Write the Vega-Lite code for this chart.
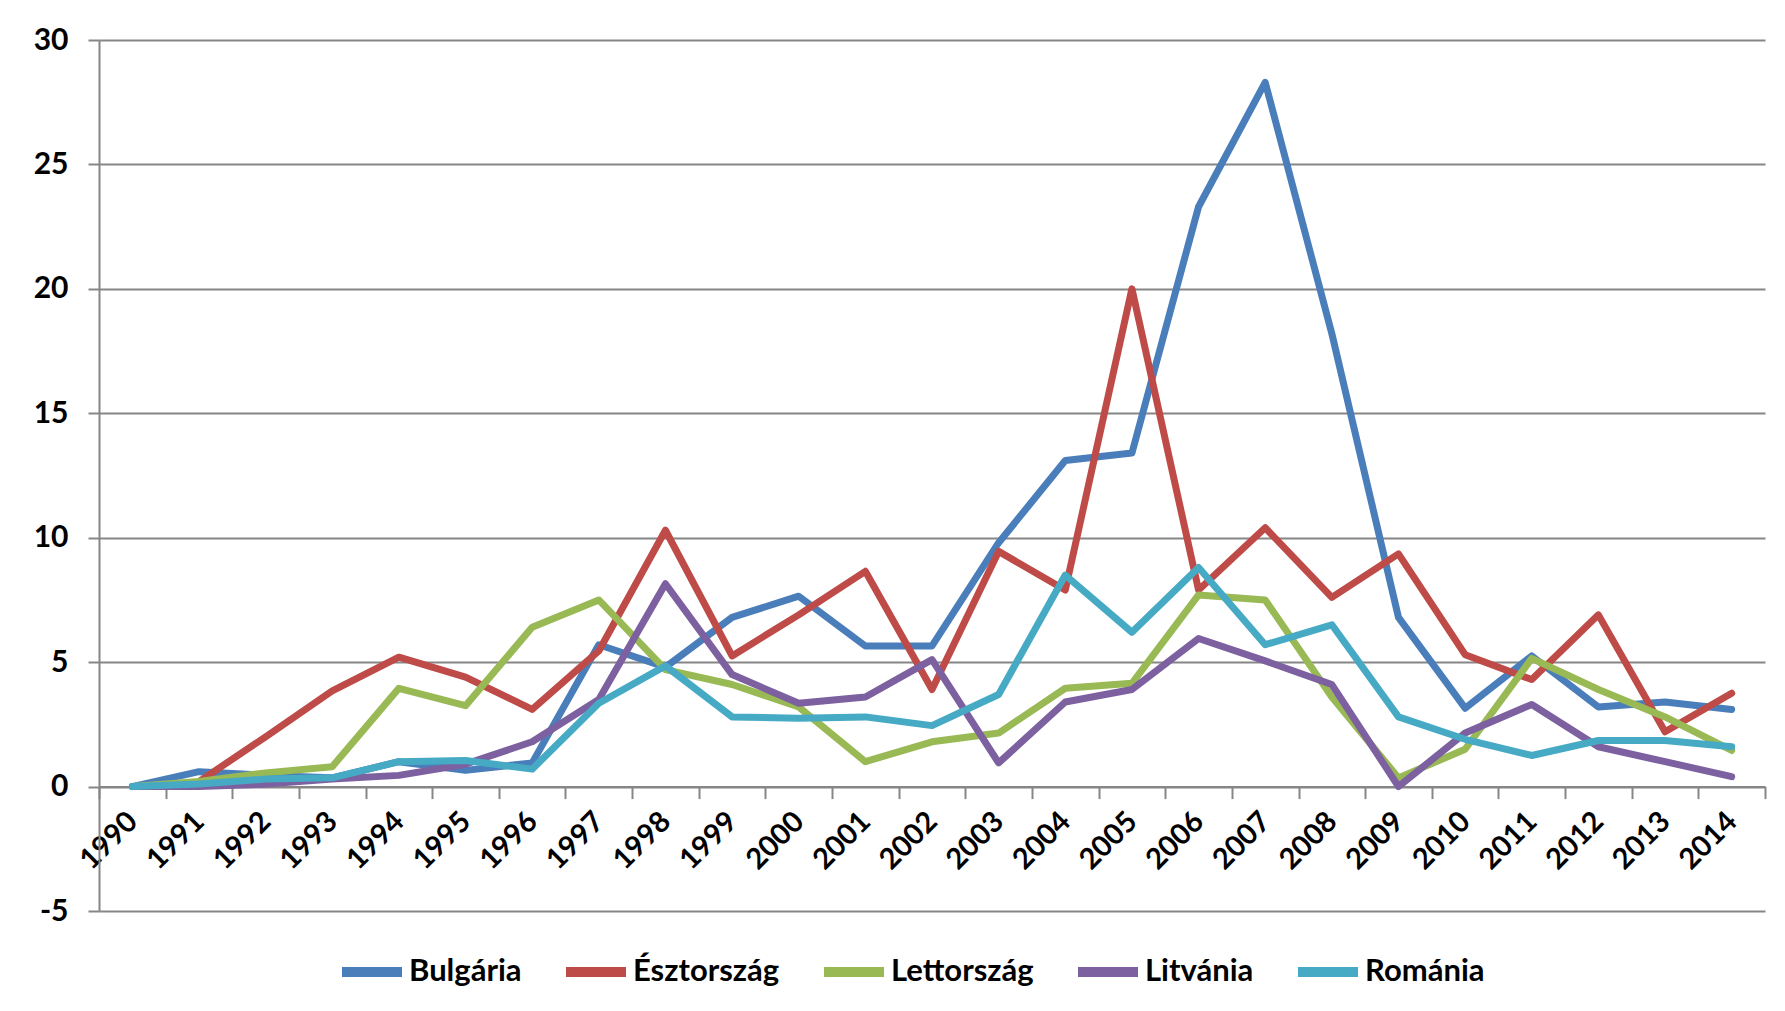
{
  "$schema": "https://vega.github.io/schema/vega-lite/v6.json",
  "width": 1666,
  "height": 871,
  "autosize": {"type": "none"},
  "padding": {"left": 99, "top": 40, "right": 20, "bottom": 100},
  "background": "white",
  "config": {
    "view": {"stroke": null},
    "font": "Lato",
    "axis": {"labelFont": "Lato", "labelFontWeight": "bold", "labelColor": "#000000"}
  },
  "data": {
    "values": [
      {"year": 1990, "country": "Bulgária", "value": 0},
      {"year": 1991, "country": "Bulgária", "value": 0.6},
      {"year": 1992, "country": "Bulgária", "value": 0.45},
      {"year": 1993, "country": "Bulgária", "value": 0.35},
      {"year": 1994, "country": "Bulgária", "value": 1.0},
      {"year": 1995, "country": "Bulgária", "value": 0.65},
      {"year": 1996, "country": "Bulgária", "value": 0.95},
      {"year": 1997, "country": "Bulgária", "value": 5.7},
      {"year": 1998, "country": "Bulgária", "value": 4.8},
      {"year": 1999, "country": "Bulgária", "value": 6.8},
      {"year": 2000, "country": "Bulgária", "value": 7.65},
      {"year": 2001, "country": "Bulgária", "value": 5.65},
      {"year": 2002, "country": "Bulgária", "value": 5.65},
      {"year": 2003, "country": "Bulgária", "value": 9.8},
      {"year": 2004, "country": "Bulgária", "value": 13.1},
      {"year": 2005, "country": "Bulgária", "value": 13.4},
      {"year": 2006, "country": "Bulgária", "value": 23.3},
      {"year": 2007, "country": "Bulgária", "value": 28.3},
      {"year": 2008, "country": "Bulgária", "value": 18.2},
      {"year": 2009, "country": "Bulgária", "value": 6.8},
      {"year": 2010, "country": "Bulgária", "value": 3.15},
      {"year": 2011, "country": "Bulgária", "value": 5.25},
      {"year": 2012, "country": "Bulgária", "value": 3.2},
      {"year": 2013, "country": "Bulgária", "value": 3.4},
      {"year": 2014, "country": "Bulgária", "value": 3.1},

      {"year": 1991, "country": "Észtország", "value": 0.2},
      {"year": 1992, "country": "Észtország", "value": 2.0},
      {"year": 1993, "country": "Észtország", "value": 3.85},
      {"year": 1994, "country": "Észtország", "value": 5.2},
      {"year": 1995, "country": "Észtország", "value": 4.4},
      {"year": 1996, "country": "Észtország", "value": 3.1},
      {"year": 1997, "country": "Észtország", "value": 5.45},
      {"year": 1998, "country": "Észtország", "value": 10.3},
      {"year": 1999, "country": "Észtország", "value": 5.25},
      {"year": 2000, "country": "Észtország", "value": 6.9},
      {"year": 2001, "country": "Észtország", "value": 8.65},
      {"year": 2002, "country": "Észtország", "value": 3.9},
      {"year": 2003, "country": "Észtország", "value": 9.45},
      {"year": 2004, "country": "Észtország", "value": 7.9},
      {"year": 2005, "country": "Észtország", "value": 20.0},
      {"year": 2006, "country": "Észtország", "value": 7.9},
      {"year": 2007, "country": "Észtország", "value": 10.4},
      {"year": 2008, "country": "Észtország", "value": 7.6},
      {"year": 2009, "country": "Észtország", "value": 9.35},
      {"year": 2010, "country": "Észtország", "value": 5.3},
      {"year": 2011, "country": "Észtország", "value": 4.3},
      {"year": 2012, "country": "Észtország", "value": 6.9},
      {"year": 2013, "country": "Észtország", "value": 2.2},
      {"year": 2014, "country": "Észtország", "value": 3.75},

      {"year": 1990, "country": "Lettország", "value": 0},
      {"year": 1991, "country": "Lettország", "value": 0.2},
      {"year": 1992, "country": "Lettország", "value": 0.55},
      {"year": 1993, "country": "Lettország", "value": 0.8},
      {"year": 1994, "country": "Lettország", "value": 3.95},
      {"year": 1995, "country": "Lettország", "value": 3.25},
      {"year": 1996, "country": "Lettország", "value": 6.4},
      {"year": 1997, "country": "Lettország", "value": 7.5},
      {"year": 1998, "country": "Lettország", "value": 4.7},
      {"year": 1999, "country": "Lettország", "value": 4.1},
      {"year": 2000, "country": "Lettország", "value": 3.2},
      {"year": 2001, "country": "Lettország", "value": 1.0},
      {"year": 2002, "country": "Lettország", "value": 1.8},
      {"year": 2003, "country": "Lettország", "value": 2.15},
      {"year": 2004, "country": "Lettország", "value": 3.95},
      {"year": 2005, "country": "Lettország", "value": 4.15},
      {"year": 2006, "country": "Lettország", "value": 7.7},
      {"year": 2007, "country": "Lettország", "value": 7.5},
      {"year": 2008, "country": "Lettország", "value": 3.6},
      {"year": 2009, "country": "Lettország", "value": 0.35},
      {"year": 2010, "country": "Lettország", "value": 1.5},
      {"year": 2011, "country": "Lettország", "value": 5.15},
      {"year": 2012, "country": "Lettország", "value": 3.9},
      {"year": 2013, "country": "Lettország", "value": 2.8},
      {"year": 2014, "country": "Lettország", "value": 1.45},

      {"year": 1990, "country": "Litvánia", "value": 0},
      {"year": 1991, "country": "Litvánia", "value": 0},
      {"year": 1992, "country": "Litvánia", "value": 0.1},
      {"year": 1993, "country": "Litvánia", "value": 0.3},
      {"year": 1994, "country": "Litvánia", "value": 0.45},
      {"year": 1995, "country": "Litvánia", "value": 0.9},
      {"year": 1996, "country": "Litvánia", "value": 1.8},
      {"year": 1997, "country": "Litvánia", "value": 3.5},
      {"year": 1998, "country": "Litvánia", "value": 8.15},
      {"year": 1999, "country": "Litvánia", "value": 4.5},
      {"year": 2000, "country": "Litvánia", "value": 3.35},
      {"year": 2001, "country": "Litvánia", "value": 3.6},
      {"year": 2002, "country": "Litvánia", "value": 5.1},
      {"year": 2003, "country": "Litvánia", "value": 0.95},
      {"year": 2004, "country": "Litvánia", "value": 3.4},
      {"year": 2005, "country": "Litvánia", "value": 3.9},
      {"year": 2006, "country": "Litvánia", "value": 5.95},
      {"year": 2007, "country": "Litvánia", "value": 5.05},
      {"year": 2008, "country": "Litvánia", "value": 4.1},
      {"year": 2009, "country": "Litvánia", "value": 0},
      {"year": 2010, "country": "Litvánia", "value": 2.15},
      {"year": 2011, "country": "Litvánia", "value": 3.3},
      {"year": 2012, "country": "Litvánia", "value": 1.6},
      {"year": 2013, "country": "Litvánia", "value": 1.0},
      {"year": 2014, "country": "Litvánia", "value": 0.4},

      {"year": 1990, "country": "Románia", "value": 0},
      {"year": 1991, "country": "Románia", "value": 0.1},
      {"year": 1992, "country": "Románia", "value": 0.3},
      {"year": 1993, "country": "Románia", "value": 0.35},
      {"year": 1994, "country": "Románia", "value": 1.0},
      {"year": 1995, "country": "Románia", "value": 1.05},
      {"year": 1996, "country": "Románia", "value": 0.7},
      {"year": 1997, "country": "Románia", "value": 3.35},
      {"year": 1998, "country": "Románia", "value": 4.85},
      {"year": 1999, "country": "Románia", "value": 2.8},
      {"year": 2000, "country": "Románia", "value": 2.75},
      {"year": 2001, "country": "Románia", "value": 2.8},
      {"year": 2002, "country": "Románia", "value": 2.45},
      {"year": 2003, "country": "Románia", "value": 3.7},
      {"year": 2004, "country": "Románia", "value": 8.5},
      {"year": 2005, "country": "Románia", "value": 6.2},
      {"year": 2006, "country": "Románia", "value": 8.8},
      {"year": 2007, "country": "Románia", "value": 5.7},
      {"year": 2008, "country": "Románia", "value": 6.5},
      {"year": 2009, "country": "Románia", "value": 2.8},
      {"year": 2010, "country": "Románia", "value": 1.9},
      {"year": 2011, "country": "Románia", "value": 1.25},
      {"year": 2012, "country": "Románia", "value": 1.85},
      {"year": 2013, "country": "Románia", "value": 1.85},
      {"year": 2014, "country": "Románia", "value": 1.6}
    ]
  },
  "mark": {"type": "line", "strokeWidth": 7, "strokeJoin": "round", "strokeCap": "round"},
  "encoding": {
    "x": {
      "field": "year",
      "type": "ordinal",
      "bandPosition": 0.5,
      "scale": {"type": "band", "paddingInner": 0, "paddingOuter": 0},
      "axis": {
        "title": null,
        "offset": -124.4,
        "tickBand": "extent",
        "domainColor": "#868686",
        "domainWidth": 2,
        "tickColor": "#868686",
        "tickWidth": 2,
        "tickSize": 12,
        "labelAngle": -45,
        "labelAlign": "right",
        "labelBaseline": "middle",
        "labelFontSize": 29,
        "labelPadding": 18,
        "grid": false
      }
    },
    "y": {
      "field": "value",
      "type": "quantitative",
      "scale": {"domain": [-5, 30], "nice": false, "zero": false},
      "axis": {
        "title": null,
        "values": [-5, 0, 5, 10, 15, 20, 25, 30],
        "labelExpr": "replace(datum.label, '−', '-')",
        "grid": true,
        "gridColor": "#868686",
        "gridWidth": 2,
        "domainColor": "#868686",
        "domainWidth": 2,
        "tickColor": "#868686",
        "tickWidth": 2,
        "tickSize": 11,
        "labelFontSize": 30,
        "labelPadding": 20
      }
    },
    "color": {
      "field": "country",
      "type": "nominal",
      "scale": {
        "domain": ["Bulgária", "Észtország", "Lettország", "Litvánia", "Románia"],
        "range": ["#4A7EBB", "#BE4B48", "#98B954", "#7D60A0", "#46AAC5"]
      },
      "legend": {
        "title": null,
        "orient": "none",
        "direction": "horizontal",
        "legendX": 238,
        "legendY": 897,
        "symbolType": "stroke",
        "symbolStrokeWidth": 10,
        "symbolSize": 3600,
        "labelFont": "Lato",
        "labelFontWeight": "bold",
        "labelFontSize": 31,
        "labelColor": "#000000",
        "labelOffset": 2,
        "columnPadding": 24,
        "padding": 0
      }
    }
  }
}
